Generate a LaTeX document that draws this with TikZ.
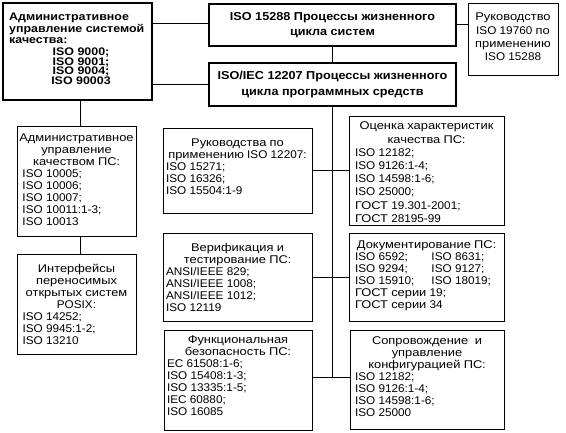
\documentclass[tikz,border=0pt]{standalone}
\usepackage{fontspec}
\setmainfont[FakeStretch=1.05]{Liberation Sans}
\newfontfamily\cyrwide[FakeStretch=1.15]{Liberation Sans}
\newfontfamily\bdfam[FakeStretch=1.1]{Liberation Sans}
\newfontfamily\bdAfam[FakeStretch=1.13]{Liberation Sans}
% wider Cyrillic letters in the regular text
\newXeTeXintercharclass\CyrCls
\newcount\cyrc
\cyrc="0400
\loop\XeTeXcharclass\cyrc=\CyrCls\advance\cyrc by 1\relax\ifnum\cyrc<"0500\repeat
\XeTeXinterchartoks 0 \CyrCls = {\begingroup\cyrwide}
\XeTeXinterchartoks 4095 \CyrCls = {\begingroup\cyrwide}
\XeTeXinterchartoks \CyrCls 0 = {\endgroup}
\XeTeXinterchartoks \CyrCls 4095 = {\endgroup}
\newcommand\rg{\fontsize{11.2}{12}\selectfont\normalbaselineskip=12pt\lineskiplimit=-20pt\XeTeXinterchartokenstate=1\relax}
\newcommand\bd{\bdfam\bfseries\fontsize{11.5}{15}\selectfont\lineskiplimit=-20pt\XeTeXinterchartokenstate=0\relax}
\newcommand\bdD{\bdfam\bfseries\fontsize{11.5}{16}\selectfont\lineskiplimit=-20pt\XeTeXinterchartokenstate=0\relax}
\newcommand\bdA{\bdAfam\bfseries\fontsize{11}{11.5}\selectfont\normalbaselineskip=11.5pt\lineskiplimit=-20pt\XeTeXinterchartokenstate=0\relax}
\newcommand\bdI{\bdAfam\bfseries\fontsize{11}{9.6}\selectfont\normalbaselineskip=9.6pt\lineskiplimit=-20pt\XeTeXinterchartokenstate=0\relax}
\newcommand\boxtext[4]{\parbox[c][#2pt][t]{#1pt}{\raggedright\vspace*{#3pt}#4}}
\begin{document}
\begin{tikzpicture}[x=1pt,y=-1pt,
  frame/.style={draw, line width=1pt, inner ysep=0pt, font=\rg},
  thick frame/.style={draw, line width=2pt, inner sep=0pt},
  conn/.style={line width=1pt},
  txt/.style={inner sep=0pt}]
\useasboundingbox (0,0) rectangle (566,433);

% top-left box
\node[thick frame, minimum width=149pt, minimum height=97pt] (A) at (77.5,51.5) {};
\node[txt, anchor=base west, font=\bdA] (Atop) at (9,20.7)
  {\parbox[t]{140pt}{Административное\\управление системой\\качества:}};
\node[txt, anchor=base, font=\bdI] (Aiso) at (81,55.8)
  {\parbox[t]{80pt}{\centering ISO 9000;\\ISO 9001;\\ISO 9004;\\ISO 90003}};

% headers
\node[thick frame, minimum width=247pt, minimum height=42.5pt, align=center, font=\bd] (B) at (332.5,25.25)
  {ISO 15288 Процессы жизненного\\цикла систем};
\node[thick frame, minimum width=247pt, minimum height=43pt, align=center, font=\bdD] (D) at (332.5,85)
  {ISO/IEC 12207 Процессы жизненного\\цикла программных средств};
\node[frame, inner xsep=3pt] (C) at (513,40)
  {\boxtext{84}{72}{9}{\baselineskip=13.3pt\centering Руководство\\ISO 19760 по\\применению\\ISO 15288}};

% left column
\node[frame, inner xsep=5.5pt] (E) at (76.5,182) {\boxtext{108}{110}{7}{\centerline{Административное}\centerline{управление}\centerline{качеством ПС:}ISO 10005;\\ISO 10006;\\ISO 10007;\\ISO 10011:1-3;\\ISO 10013}};
\node[frame, inner xsep=5.5pt] (F) at (76.5,305) {\boxtext{108}{100}{9}{\centerline{Интерфейсы}\centerline{переносимых}\centerline{открытых систем}\centerline{POSIX:}ISO 14252;\\ISO 9945:1-2;\\ISO 13210}};

% middle column
\node[frame, inner xsep=3pt] (G) at (237.5,171.5) {\boxtext{143}{85}{10}{\centerline{Руководства по}\centerline{применению ISO 12207:}ISO 15271;\\ISO 16326;\\ISO 15504:1-9}};
\node[frame, inner xsep=3pt] (H) at (237.5,278) {\boxtext{143}{88}{9}{\centerline{Верификация и}\centerline{тестирование ПС:}ANSI/IEEE 829;\\ANSI/IEEE 1008;\\ANSI/IEEE 1012;\\ISO 12119}};
\node[frame, inner xsep=3pt] (I) at (238,380.5) {\boxtext{142}{99}{5}{\centerline{Функциональная}\centerline{безопасность ПС:}EC 61508:1-6;\\ISO 15408:1-3;\\ISO 13335:1-5;\\IEC 60880;\\ISO 16085}};

% right column
\node[frame, inner xsep=6pt] (J) at (426.5,171.5) {\boxtext{143}{109}{5}{\baselineskip=13.2pt\centerline{Оценка характеристик}\centerline{качества ПС:}ISO 12182;\\ISO 9126:1-4;\\ISO 14598:1-6;\\ISO 25000;\\ГОСТ 19.301-2001;\\ГОСТ 28195-99}};
\node[frame, inner xsep=6pt] (K) at (426.5,278) {\boxtext{143}{88}{7}{\centerline{Документирование ПС:}\makebox[76.5pt][l]{ISO 6592;}ISO 8631;\\\makebox[76.5pt][l]{ISO 9294;}ISO 9127;\\\makebox[76.5pt][l]{ISO 15910;}ISO 18019;\\ГОСТ серии 19;\\ГОСТ серии 34}};
\node[frame, inner xsep=5pt] (L) at (427,380) {\boxtext{144}{98}{6}{\centerline{Сопровождение~~и}\centerline{управление}\centerline{конфигурацией ПС:}ISO 12182;\\ISO 9126:1-4;\\ISO 14598:1-6;\\ISO 25000}};

% connectors
\coordinate (tr) at (332,378);
\coordinate (lx) at (80,0);
\coordinate (y24) at (0,24);
\coordinate (y25) at (0,25);
\coordinate (y85) at (0,85);
\coordinate (r1) at (0,170.5);
\draw[conn] (A.east |- y24) -- (B.west |- y24);
\draw[conn] (A.east |- y85) -- (D.west |- y85);
\draw[conn] (B.east |- y25) -- (C.west |- y25);
\draw[conn] (B.south -| tr) -- (D.north -| tr);
\draw[conn] (D.south -| tr) -- (tr);
\draw[conn] (G.east |- r1) -- (J.west |- r1);
\draw[conn] (H.east) -- (K.west);
\draw[conn] (I.east |- tr) -- (L.west |- tr);
\draw[conn] (A.south -| lx) -- (E.north -| lx);
\draw[conn] (E.south -| lx) -- (F.north -| lx);
\end{tikzpicture}
\end{document}
